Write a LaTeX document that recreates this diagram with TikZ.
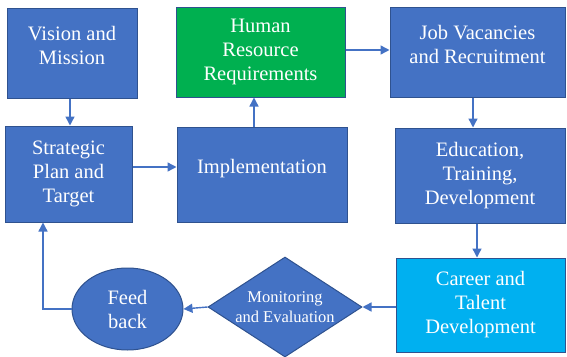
\documentclass[tikz,border=0pt]{standalone}
\usepackage{fontspec}
\setmainfont{Liberation Serif}
\usetikzlibrary{shapes.geometric,arrows.meta}
\definecolor{boxblue}{HTML}{4472C4}
\definecolor{edgeblue}{HTML}{2F528F}
\definecolor{boxgreen}{HTML}{00B050}
\definecolor{boxcyan}{HTML}{00B0F0}
\tikzset{
  base/.style={draw=edgeblue, line width=1pt, text=white, align=center, inner sep=0pt,
    font=\fontsize{20.5}{24}\selectfont},
  bluebox/.style={base, rectangle, fill=boxblue},
  arr/.style={draw=boxblue, line width=1.4pt, -{Triangle[length=9pt,width=9pt]}},
}
\begin{document}
\begin{tikzpicture}[x=1pt,y=-1pt]
\useasboundingbox (0,0) rectangle (567,356);
\node[bluebox, minimum width=130pt, minimum height=90pt] (vision) at (72,53) {Vision and\\Mission\\[-9pt]\mbox{}};
\node[bluebox, minimum width=127pt, minimum height=96pt] (strategic) at (68.5,174) {Strategic\\Plan and\\Target};
\node[base, rectangle, fill=boxgreen, minimum width=169pt, minimum height=90pt] (hr) at (260.5,52) {Human\\Resource\\Requirements};
\node[bluebox, minimum width=170pt, minimum height=95pt] (impl) at (262,174.5) {Implementation\\[-8pt]\mbox{}};
\node[bluebox, minimum width=175pt, minimum height=90pt] (job) at (477.5,52) {Job Vacancies\\and Recruitment\\[-9pt]\mbox{}};
\node[bluebox, minimum width=170pt, minimum height=95pt] (edu) at (480,175.5) {Education,\\Training,\\Development};
\node[base, rectangle, fill=boxcyan, minimum width=169pt, minimum height=94pt] (career) at (480.5,305) {Career and\\Talent\\Development};
\node[base, diamond, fill=boxblue, minimum width=154pt, minimum height=100pt, aspect=1.54,
  font=\fontsize{16.5}{20}\selectfont] (monitor) at (285,307) {Monitoring\\and Evaluation};
\node[base, ellipse, fill=boxblue, minimum width=111pt, minimum height=82pt] (feed) at (127.5,309) {Feed\\back};
\draw[arr] (vision.south -| 70,0) -- (strategic.north -| 70,0);
\draw[arr] (strategic.east |- 0,167) -- (impl.west |- 0,167);
\draw[arr] (impl.north -| 254,0) -- (hr.south -| 254,0);
\draw[arr] (hr.east |- 0,50) -- (job.west |- 0,50);
\draw[arr] (job.south -| 473,0) -- (edu.north -| 473,0);
\draw[arr] (edu.south -| 477,0) -- (career.north -| 477,0);
\draw[arr] (career.west |- monitor.east) -- (monitor.east);
\draw[arr] (monitor.west) -- (feed.east);
\draw[arr] (feed.west) -| (strategic.south -| 43,0);
\end{tikzpicture}
\end{document}
